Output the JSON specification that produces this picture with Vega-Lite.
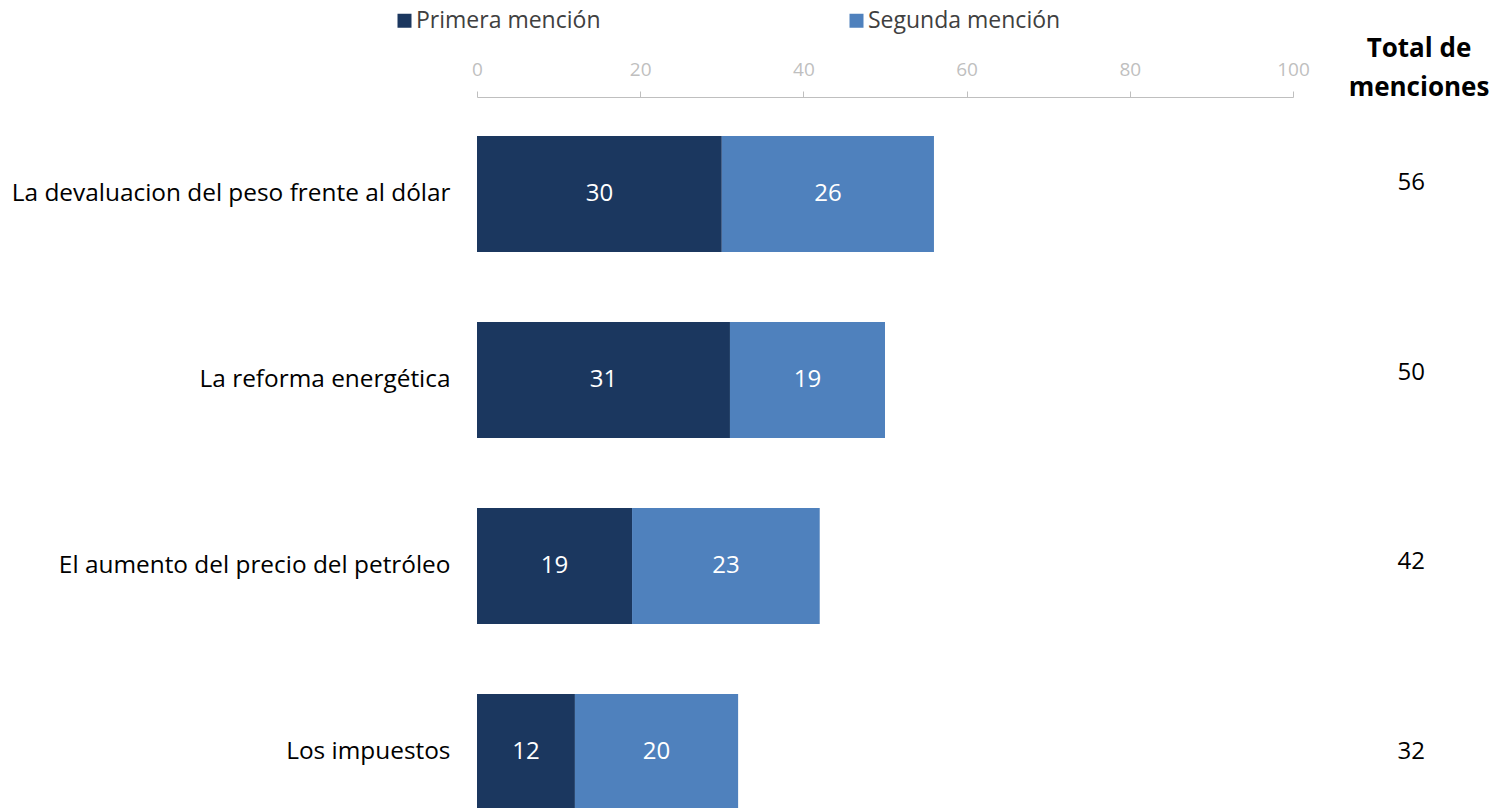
{
  "$schema": "https://vega.github.io/schema/vega-lite/v6.json",
  "width": 816,
  "height": 707,
  "autosize": {"type": "none"},
  "padding": {"left": 477, "top": 101, "right": 208, "bottom": 0},
  "config": {"view": {"stroke": null}, "font": "Open Sans"},
  "title": {
    "text": ["Total de", "menciones"],
    "anchor": "end",
    "align": "center",
    "frame": "group",
    "orient": "top",
    "dx": 126,
    "dy": 96,
    "fontSize": 26,
    "fontWeight": "bold",
    "color": "#000000",
    "lineHeight": 39
  },
  "resolve": {"scale": {"y": "independent"}},
  "datasets": {
    "segs": [
      {"cat": "La devaluacion del peso frente al dólar", "serie": "Primera mención", "valor": 30},
      {"cat": "La devaluacion del peso frente al dólar", "serie": "Segunda mención", "valor": 26},
      {"cat": "La reforma energética", "serie": "Primera mención", "valor": 31},
      {"cat": "La reforma energética", "serie": "Segunda mención", "valor": 19},
      {"cat": "El aumento del precio del petróleo", "serie": "Primera mención", "valor": 19},
      {"cat": "El aumento del precio del petróleo", "serie": "Segunda mención", "valor": 23},
      {"cat": "Los impuestos", "serie": "Primera mención", "valor": 12},
      {"cat": "Los impuestos", "serie": "Segunda mención", "valor": 20}
    ],
    "totals": [
      {"cat": "La devaluacion del peso frente al dólar", "total": 56},
      {"cat": "La reforma energética", "total": 50},
      {"cat": "El aumento del precio del petróleo", "total": 42},
      {"cat": "Los impuestos", "total": 32}
    ]
  },
  "layer": [
    {
      "data": {"name": "segs"},
      "transform": [
        {"stack": "valor", "groupby": ["cat"], "sort": [{"field": "serie", "order": "ascending"}], "as": ["x0", "x1"]},
        {"calculate": "(datum.x0 + datum.x1) / 2", "as": "xmid"}
      ],
      "encoding": {
        "y": {
          "field": "cat", "type": "nominal",
          "sort": ["La devaluacion del peso frente al dólar", "La reforma energética", "El aumento del precio del petróleo", "Los impuestos"],
          "scale": {"range": [0, 744], "paddingInner": 0.376, "paddingOuter": 0.188},
          "axis": {"title": null, "domain": false, "ticks": false, "labelPadding": 27, "labelFontSize": 24.4, "labelColor": "#000000", "labelLimit": 0}
        }
      },
      "layer": [
        {
          "mark": {"type": "bar"},
          "encoding": {
            "x": {
              "field": "x0", "type": "quantitative",
              "scale": {"domain": [0, 100], "nice": false},
              "axis": {
                "orient": "top", "title": null, "grid": false, "offset": 4,
                "values": [0, 20, 40, 60, 80, 100], "labelFlush": false,
                "domainColor": "#BFBFBF", "tickColor": "#BFBFBF", "tickSize": 6,
                "labelColor": "#BFBFBF", "labelFontSize": 19, "labelPadding": 12
              }
            },
            "x2": {"field": "x1"},
            "color": {
              "field": "serie", "type": "nominal",
              "scale": {"domain": ["Primera mención", "Segunda mención"], "range": ["#1B375F", "#4F81BD"]},
              "legend": {
                "title": null, "orient": "none", "legendX": -84, "legendY": -92,
                "direction": "horizontal", "symbolType": "square", "symbolSize": 196,
                "symbolStrokeWidth": 0, "labelFontSize": 23, "labelColor": "#404040",
                "labelOffset": 0, "columnPadding": 244, "labelLimit": 0
              }
            }
          }
        },
        {
          "mark": {"type": "text", "color": "#FFFFFF", "fontSize": 24},
          "encoding": {
            "x": {"field": "xmid", "type": "quantitative"},
            "text": {"field": "valor", "type": "quantitative"}
          }
        }
      ]
    },
    {
      "data": {"name": "totals"},
      "mark": {"type": "text", "color": "#000000", "fontSize": 24},
      "encoding": {
        "x": {"datum": 114.5, "type": "quantitative"},
        "y": {
          "field": "cat", "type": "nominal",
          "sort": ["La devaluacion del peso frente al dólar", "La reforma energética", "El aumento del precio del petróleo", "Los impuestos"],
          "scale": {"type": "point", "range": [82, 650.5], "padding": 0},
          "axis": null
        },
        "text": {"field": "total", "type": "quantitative"}
      }
    }
  ]
}
